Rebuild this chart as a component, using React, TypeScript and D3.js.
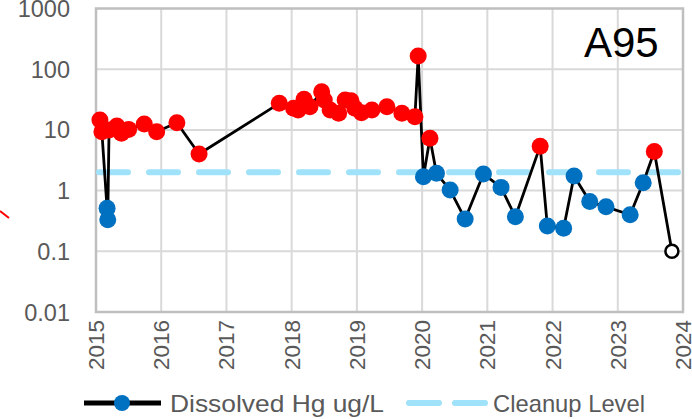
import * as d3 from 'd3';

// sample dates (decimal year) and dissolved Hg (ug/L), in sampling order
const sampleDates = [
  2015.06, 2015.09, 2015.17, 2015.18, 2015.2, 2015.32, 2015.39, 2015.5, 2015.74, 2015.93,
  2016.24, 2016.58, 2017.81, 2018.03, 2018.1, 2018.19, 2018.28, 2018.46, 2018.5, 2018.59,
  2018.72, 2018.82, 2018.91, 2018.97, 2019.07, 2019.23, 2019.46, 2019.69, 2019.89, 2019.94,
  2020.02, 2020.12, 2020.22, 2020.43, 2020.66, 2020.94, 2021.21, 2021.43, 2021.81, 2021.92,
  2022.17, 2022.33, 2022.57, 2022.82, 2023.19, 2023.39, 2023.56, 2023.83,
];
const hgValues = [
  14.6, 9.3, 0.51, 0.33, 10, 11.6, 8.8, 10.2, 12.5, 9.3,
  13.1, 4.0, 27.4, 22.7, 21.3, 31.9, 24.1, 42.6, 31.1, 21.3,
  18.8, 31.1, 30.3, 22.7, 19.2, 21.3, 24.1, 18.8, 16.5, 165,
  1.69, 7.3, 1.93, 1.02, 0.34, 1.88, 1.13, 0.37, 5.4, 0.26,
  0.24, 1.74, 0.66, 0.54, 0.4, 1.35, 4.4, 0.1,
];
const nonDetectDates = [2023.83];
const cleanupLevel = 2;

const yearTicks = [2015, 2016, 2017, 2018, 2019, 2020, 2021, 2022, 2023, 2024];
const logTicks = [0.01, 0.1, 1, 10, 100, 1000];
const seriesLabel = 'Dissolved Hg ug/L';
const cleanupLabel = 'Cleanup Level';
const wellName = 'A95';

const W = 692;
const H = 419;
const plot = { left: 96, right: 683, top: 8.5, bottom: 312 };
const FONT = "'Liberation Sans', Arial, sans-serif";
const TICK_COLOR = '#595959';

export default function App() {
  const x = d3.scaleLinear().domain([2015, 2024]).range([plot.left, plot.right]);
  const y = d3.scaleLog().domain([0.01, 1000]).range([plot.bottom, plot.top]);

  const pts = sampleDates.map((d, i) => ({ d, v: hgValues[i], nd: nonDetectDates.includes(d) }));
  const linePath = d3.line<any>().x(p => x(p.d)).y(p => y(p.v))(pts) || '';

  const legY = 403;

  return (
    <svg width={W} height={H} style={{ position: 'absolute', left: 0, top: 0, background: '#fff' }}>
      <rect width={W} height={H} fill="#fff" />
      {/* stray red mark at left edge */}
      <line x1={0} y1={211} x2={9} y2={218} stroke="#ff0000" strokeWidth={2} />

      {/* grid */}
      {yearTicks.slice(1, -1).map(t => (
        <line key={'gx' + t} x1={x(t)} x2={x(t)} y1={plot.top} y2={plot.bottom} stroke="#d9d9d9" strokeWidth={2} />
      ))}
      {logTicks.slice(1, -1).map(t => (
        <line key={'gy' + t} x1={plot.left} x2={plot.right} y1={y(t)} y2={y(t)} stroke="#d9d9d9" strokeWidth={2} />
      ))}
      <rect x={plot.left} y={plot.top} width={plot.right - plot.left} height={plot.bottom - plot.top}
        fill="none" stroke="#bfbfbf" strokeWidth={2.5} />

      {/* y tick labels */}
      {logTicks.map(t => (
        <text key={'ty' + t} x={70} y={y(t) + 8.5} textAnchor="end" fontFamily={FONT} fontSize={23.5} fill={TICK_COLOR}>
          {d3.format('~g')(t)}
        </text>
      ))}
      {/* x tick labels */}
      {yearTicks.map(t => (
        <text key={'tx' + t} transform={`translate(${x(t) + 8},${plot.bottom + 8}) rotate(-90)`}
          textAnchor="end" fontFamily={FONT} fontSize={22.5} fill={TICK_COLOR}>
          {t}
        </text>
      ))}

      {/* cleanup level */}
      <line x1={plot.left + 3} x2={plot.right - 3} y1={y(cleanupLevel)} y2={y(cleanupLevel)}
        stroke="#a0e2f9" strokeWidth={6} strokeDasharray="29 21" strokeLinecap="round" />

      {/* series */}
      <path d={linePath} fill="none" stroke="#000" strokeWidth={2.8} strokeLinejoin="round" />
      {pts.map((p, i) =>
        p.nd ? (
          <circle key={i} cx={x(p.d)} cy={y(p.v)} r={6.5} fill="#fff" stroke="#000" strokeWidth={2.5} />
        ) : (
          <circle key={i} cx={x(p.d)} cy={y(p.v)} r={8.5} fill={p.v > cleanupLevel ? '#ff0000' : '#0070c0'} />
        )
      )}

      <text x={584} y={57} fontFamily={FONT} fontSize={42} fill="#000">{wellName}</text>

      {/* legend */}
      <line x1={84} x2={161} y1={legY} y2={legY} stroke="#000" strokeWidth={5} />
      <circle cx={122} cy={legY} r={8} fill="#0070c0" />
      <text x={170} y={legY + 8.5} fontFamily={FONT} fontSize={24} fill={TICK_COLOR}
        textLength={214} lengthAdjust="spacingAndGlyphs">{seriesLabel}</text>
      <line x1={409} x2={485} y1={legY} y2={legY} stroke="#a0e2f9" strokeWidth={6}
        strokeDasharray="30 16" strokeLinecap="round" />
      <text x={493} y={legY + 8.5} fontFamily={FONT} fontSize={24} fill={TICK_COLOR}
        textLength={152} lengthAdjust="spacingAndGlyphs">{cleanupLabel}</text>
    </svg>
  );
}
